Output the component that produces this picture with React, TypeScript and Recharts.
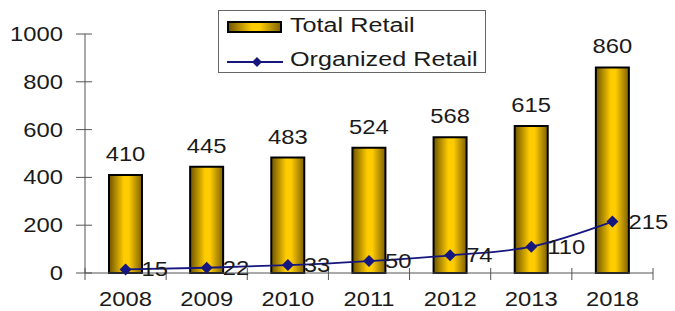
import { ComposedChart, Bar, Line, XAxis, YAxis, LabelList } from 'recharts'

const years = ['2008', '2009', '2010', '2011', '2012', '2013', '2018']
const totalRetail = [410, 445, 483, 524, 568, 615, 860]
const organizedRetail = [15, 22, 33, 50, 74, 110, 215]
const yTicks = [0, 200, 400, 600, 800, 1000]

const data = years.map((y, i) => ({ year: y, total: totalRetail[i], organized: organizedRetail[i] }))

const W = 675, H = 311
const M = { top: 34, right: 22, left: 0, bottom: 0 }
const YW = 85
const step = (W - M.left - YW - M.right) / years.length
const font = '"Liberation Sans", Arial, sans-serif'
const navy = '#16167f'
const ink = '#1a1a1a'

// the reference text is drawn wide, so stretch it horizontally
const WText = ({ x, y, anchor = 'middle', size = 19.5, sx = 1.22, children }: any) => (
  <text transform={`translate(${x},${y}) scale(${sx},1)`} textAnchor={anchor} fontSize={size} fill={ink} fontFamily={font}>{children}</text>
)

const Diamond = (p: any) => {
  const { cx, cy } = p
  if (cx == null || cy == null) return null
  return <path d={`M${cx},${cy - 6}L${cx + 6},${cy}L${cx},${cy + 6}L${cx - 6},${cy}Z`} fill={navy} />
}

const YTick = (p: any) => (
  <g>
    <line x1={p.x - 9} x2={p.x + 7} y1={p.y} y2={p.y} stroke="#555" />
    <WText x={p.x - 22} y={p.y + 7} anchor="end">{p.payload.value}</WText>
  </g>
)

const XTick = (p: any) => (
  <g>
    <line x1={p.x - step / 2} x2={p.x - step / 2} y1={p.y - 5} y2={p.y + 7} stroke="#555" />
    {p.index === years.length - 1 && <line x1={p.x + step / 2} x2={p.x + step / 2} y1={p.y - 5} y2={p.y + 7} stroke="#555" />}
    <WText x={p.x} y={p.y + 33}>{p.payload.value}</WText>
  </g>
)

const BarLabel = (p: any) => <WText x={p.x + p.width / 2} y={p.y - 14}>{p.value}</WText>
const LineLabel = (p: any) => <WText x={p.x + 16} y={p.y + 7} anchor="start">{p.value}</WText>

export default function App() {
  return (
    <div style={{ position: 'absolute', left: 0, top: 0, width: W, height: H, background: '#fff' }}>
      <ComposedChart width={W} height={H} data={data} margin={M}>
        <defs>
          <linearGradient id="barGrad" x1="0" y1="0" x2="1" y2="0">
            <stop offset="0%" stopColor="#6e5400" />
            <stop offset="45%" stopColor="#ffcc00" />
            <stop offset="60%" stopColor="#ffcc00" />
            <stop offset="100%" stopColor="#7e6100" />
          </linearGradient>
        </defs>
        <XAxis dataKey="year" height={38} axisLine={{ stroke: '#555' }} tickLine={false} tickSize={0} tickMargin={0} tick={<XTick />} interval={0} />
        <YAxis width={YW} domain={[0, 1000]} ticks={yTicks} axisLine={{ stroke: '#555' }} tickLine={false} tickSize={0} tickMargin={0} tick={<YTick />} />
        <Bar dataKey="total" name="Total Retail" barSize={33} fill="url(#barGrad)" stroke="#000" strokeWidth={2} isAnimationActive={false}>
          <LabelList dataKey="total" content={<BarLabel />} />
        </Bar>
        <Line dataKey="organized" name="Organized Retail" type="monotone" stroke={navy} strokeWidth={1.8} dot={<Diamond />} isAnimationActive={false}>
          <LabelList dataKey="organized" content={<LineLabel />} />
        </Line>
      </ComposedChart>
      <svg width={269} height={64} style={{ position: 'absolute', left: 218, top: 10 }}>
        <rect x={0.5} y={0.5} width={267} height={62} fill="#fff" stroke="#666" />
        <rect x={10} y={12} width={53} height={10} fill="url(#barGrad)" stroke="#000" strokeWidth={2} />
        <line x1={9} x2={65} y1={52} y2={52} stroke={navy} strokeWidth={1.8} />
        <path d="M39,47L44,52L39,57L34,52Z" fill={navy} />
        <WText x={72} y={22} anchor="start" size={21} sx={1.2}>Total Retail</WText>
        <WText x={72} y={56} anchor="start" size={21} sx={1.2}>Organized Retail</WText>
      </svg>
    </div>
  )
}
